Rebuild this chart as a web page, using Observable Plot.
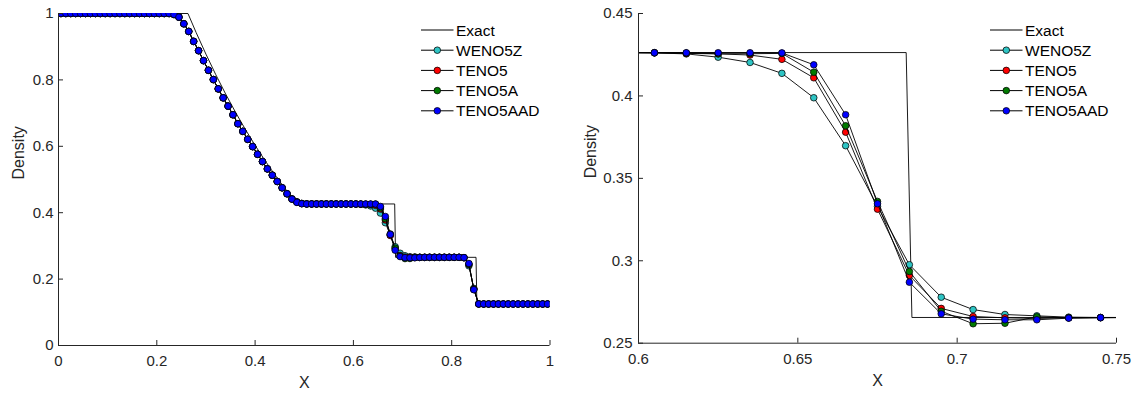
<!DOCTYPE html>
<html>
<head>
<meta charset="utf-8">
<script src="https://cdn.jsdelivr.net/npm/d3@7"></script>
<script src="https://cdn.jsdelivr.net/npm/@observablehq/plot@0.6"></script>
<style>
  body { margin: 0; background: #fff; }
  #wrap { display: flex; width: 1138px; height: 394px; }
  .panel { position: relative; width: 569px; height: 394px; }
  .panel svg.legend { position: absolute; left: 0; top: 0; pointer-events: none; }
</style>
</head>
<body>
<div id="wrap"></div>
<script>
// ---- data ----
const cellX = [
  0.005,0.015,0.025,0.035,0.045,0.055,0.065,0.075,0.085,0.095,
  0.105,0.115,0.125,0.135,0.145,0.155,0.165,0.175,0.185,0.195,
  0.205,0.215,0.225,0.235,0.245,0.255,0.265,0.275,0.285,0.295,
  0.305,0.315,0.325,0.335,0.345,0.355,0.365,0.375,0.385,0.395,
  0.405,0.415,0.425,0.435,0.445,0.455,0.465,0.475,0.485,0.495,
  0.505,0.515,0.525,0.535,0.545,0.555,0.565,0.575,0.585,0.595,
  0.605,0.615,0.625,0.635,0.645,0.655,0.665,0.675,0.685,0.695,
  0.705,0.715,0.725,0.735,0.745,0.755,0.765,0.775,0.785,0.795,
  0.805,0.815,0.825,0.835,0.845,0.855,0.865,0.875,0.885,0.895,
  0.905,0.915,0.925,0.935,0.945,0.955,0.965,0.975,0.985,0.995
];

const rhoWENO5Z = [
  1,1,1,1,1,1,1,1,1,1,
  1,1,1,1,1,1,1,1,1,1,
  1,1,1,0.997,0.989,0.969,0.946,0.916,0.888,0.858,
  0.829,0.801,0.773,0.746,0.721,0.695,0.668,0.645,0.621,0.599,
  0.576,0.554,0.532,0.513,0.494,0.475,0.457,0.442,0.433,0.428,
  0.4265,0.4264,0.4263,0.4263,0.4263,0.4263,0.4263,0.4263,0.4263,0.4262,
  0.4261,0.4255,0.4235,0.4203,0.4137,0.3989,0.3698,0.3330,0.2976,0.2779,
  0.2704,0.2674,0.2666,0.2658,0.2656,0.2656,0.2656,0.2656,0.2656,0.2656,
  0.2656,0.2655,0.2643,0.240,0.172,0.1255,0.125,0.125,0.125,0.125,
  0.125,0.125,0.125,0.125,0.125,0.125,0.125,0.125,0.125,0.125
];

const rhoTENO5 = [
  1,1,1,1,1,1,1,1,1,1,
  1,1,1,1,1,1,1,1,1,1,
  1,1,1,0.997,0.989,0.969,0.946,0.916,0.888,0.858,
  0.829,0.801,0.773,0.746,0.721,0.695,0.668,0.645,0.621,0.599,
  0.576,0.554,0.532,0.513,0.494,0.475,0.457,0.441,0.432,0.4275,
  0.4263,0.4263,0.4263,0.4263,0.4263,0.4263,0.4263,0.4263,0.4263,0.4263,
  0.4262,0.4258,0.4255,0.4248,0.4222,0.4110,0.3780,0.3313,0.2911,0.2711,
  0.2662,0.2654,0.2650,0.2654,0.2655,0.2656,0.2656,0.2656,0.2656,0.2656,
  0.2656,0.2656,0.2646,0.244,0.170,0.125,0.125,0.125,0.125,0.125,
  0.125,0.125,0.125,0.125,0.125,0.125,0.125,0.125,0.125,0.125
];

const rhoTENO5A = [
  1,1,1,1,1,1,1,1,1,1,
  1,1,1,1,1,1,1,1,1,1,
  1,1,1,0.997,0.989,0.969,0.946,0.916,0.888,0.858,
  0.829,0.801,0.773,0.746,0.721,0.695,0.668,0.645,0.621,0.599,
  0.576,0.554,0.532,0.513,0.494,0.475,0.457,0.441,0.432,0.4275,
  0.4263,0.4263,0.4263,0.4263,0.4263,0.4263,0.4263,0.4263,0.4263,0.4263,
  0.4262,0.4260,0.4256,0.4256,0.4258,0.4144,0.3819,0.3360,0.2935,0.2694,
  0.2618,0.2621,0.2660,0.2654,0.2655,0.2656,0.2656,0.2656,0.2656,0.2656,
  0.2656,0.2656,0.2647,0.245,0.169,0.125,0.125,0.125,0.125,0.125,
  0.125,0.125,0.125,0.125,0.125,0.125,0.125,0.125,0.125,0.125
];

const rhoTENO5AAD = [
  1,1,1,1,1,1,1,1,1,1,
  1,1,1,1,1,1,1,1,1,1,
  1,1,1,0.997,0.989,0.969,0.946,0.916,0.888,0.858,
  0.829,0.801,0.773,0.746,0.721,0.695,0.668,0.645,0.621,0.599,
  0.576,0.554,0.532,0.513,0.494,0.475,0.457,0.441,0.431,0.427,
  0.4263,0.4263,0.4263,0.4263,0.4263,0.4263,0.4263,0.4263,0.4263,0.4263,
  0.4262,0.4262,0.4262,0.4262,0.4261,0.4189,0.3886,0.3346,0.2870,0.2678,
  0.2646,0.2642,0.2642,0.2652,0.2655,0.2656,0.2656,0.2656,0.2656,0.2656,
  0.2656,0.2656,0.2648,0.247,0.168,0.125,0.125,0.125,0.125,0.125,
  0.125,0.125,0.125,0.125,0.125,0.125,0.125,0.125,0.125,0.125
];

const exactX   = [0, 0.2634, 0.28, 0.30, 0.32, 0.34, 0.36, 0.38, 0.40, 0.42, 0.44, 0.46, 0.48, 0.4859, 0.6840, 0.6858, 0.8495, 0.8512, 1];
const exactRho = [1, 1, 0.9428, 0.8775, 0.8158, 0.7577, 0.7029, 0.6514, 0.6029, 0.5574, 0.5146, 0.4746, 0.4370, 0.4263, 0.4263, 0.2656, 0.2656, 0.125, 0.125];

const schemeNames  = ["WENO5Z", "TENO5", "TENO5A", "TENO5AAD"];
const schemeValues = [rhoWENO5Z, rhoTENO5, rhoTENO5A, rhoTENO5AAD];
const schemeFills  = ["#2ec4c4", "#ff0000", "#007a00", "#0000ff"];

const leftXTicks  = [0, 0.2, 0.4, 0.6, 0.8, 1];
const leftYTicks  = [0, 0.2, 0.4, 0.6, 0.8, 1];
const rightXTicks = [0.6, 0.65, 0.7, 0.75];
const rightYTicks = [0.25, 0.3, 0.35, 0.4, 0.45];

// ---- tables built from arrays ----
const exactRows = exactX.map((x, i) => ({x, rho: exactRho[i]}));
const schemeRows = schemeNames.map((name, s) =>
  cellX.map((x, i) => ({x, rho: schemeValues[s][i], scheme: name})));

const AXIS = "#262626";
const FONT = "'Liberation Sans', Arial, Helvetica, sans-serif";
const R = 3.3;

function makePanel(cfg) {
  const W = 569, H = 394;
  const plotW = W - cfg.marginLeft - cfg.marginRight;
  const plotH = H - cfg.marginTop - cfg.marginBottom;
  const marks = [
    Plot.line(exactRows, {x: "x", y: "rho", stroke: "black", strokeWidth: 0.9, clip: true})
  ];
  schemeRows.forEach((rows, s) => {
    marks.push(Plot.line(rows, {x: "x", y: "rho", stroke: "black", strokeWidth: 0.9, clip: true}));
    marks.push(Plot.dot(rows, {x: "x", y: "rho", r: R, fill: schemeFills[s], stroke: "black", strokeWidth: 0.75, clip: true}));
  });
  marks.push(
    Plot.ruleX([cfg.xDomain[0]], {stroke: AXIS, strokeWidth: 1}),
    Plot.ruleY([cfg.yDomain[0]], {stroke: AXIS, strokeWidth: 1}),
    Plot.tickX(cfg.xTicks, {x: d => d, stroke: AXIS, strokeWidth: 1, insetTop: plotH - 5}),
    Plot.tickY(cfg.yTicks, {y: d => d, stroke: AXIS, strokeWidth: 1, insetRight: plotW - 5}),
    Plot.axisX({ticks: cfg.xTicks, tickSize: 0, tickPadding: 10, fontSize: 15, fill: AXIS, tickFormat: d => String(d), label: null}),
    Plot.axisY({ticks: cfg.yTicks, tickSize: 0, tickPadding: cfg.yPad, fontSize: 15, fill: AXIS, tickFormat: d => String(d), label: null}),
    Plot.text(["X"], {text: d => d, frameAnchor: "bottom", dy: cfg.xLabelDy, fontSize: 16, fill: AXIS, lineAnchor: "middle"}),
    Plot.text(["Density"], {text: d => d, frameAnchor: "left", dx: cfg.yLabelDx, rotate: -90, fontSize: 16, fill: AXIS, lineAnchor: "middle"})
  );
  const chart = Plot.plot({
    width: W, height: H,
    marginLeft: cfg.marginLeft, marginRight: cfg.marginRight,
    marginTop: cfg.marginTop, marginBottom: cfg.marginBottom,
    x: {domain: cfg.xDomain},
    y: {domain: cfg.yDomain},
    style: {fontFamily: FONT, fontSize: "15px", color: AXIS, background: "transparent", overflow: "visible"},
    marks
  });

  const div = document.createElement("div");
  div.className = "panel";
  div.appendChild(chart);

  // legend (inside the axes, top right)
  const lg = d3.create("svg").attr("class", "legend").attr("width", W).attr("height", H);
  const entries = ["Exact", ...schemeNames];
  entries.forEach((name, i) => {
    const y = 30 + 20.2 * i;
    lg.append("line").attr("x1", 421).attr("x2", 453.5).attr("y1", y).attr("y2", y)
      .attr("stroke", "black").attr("stroke-width", 1);
    if (i > 0) {
      lg.append("circle").attr("cx", 437.3).attr("cy", y).attr("r", R)
        .attr("fill", schemeFills[i - 1]).attr("stroke", "black").attr("stroke-width", 0.75);
    }
    lg.append("text").attr("x", 456).attr("y", y).attr("dominant-baseline", "central")
      .attr("font-family", FONT).attr("font-size", 15.5).attr("fill", "black").text(name);
  });
  div.appendChild(lg.node());
  return div;
}

const wrap = document.getElementById("wrap");
wrap.appendChild(makePanel({
  xDomain: [0, 1], yDomain: [0, 1], xTicks: leftXTicks, yTicks: leftYTicks,
  marginLeft: 58, marginRight: 19.5, marginTop: 13, marginBottom: 49,
  yPad: 5, xLabelDy: 37, yLabelDx: -39.5
}));
wrap.appendChild(makePanel({
  xDomain: [0.6, 0.75], yDomain: [0.25, 0.45], xTicks: rightXTicks, yTicks: rightYTicks,
  marginLeft: 69, marginRight: 22, marginTop: 13, marginBottom: 51.3,
  yPad: 6, xLabelDy: 37.5, yLabelDx: -48
}));
</script>
</body>
</html>
